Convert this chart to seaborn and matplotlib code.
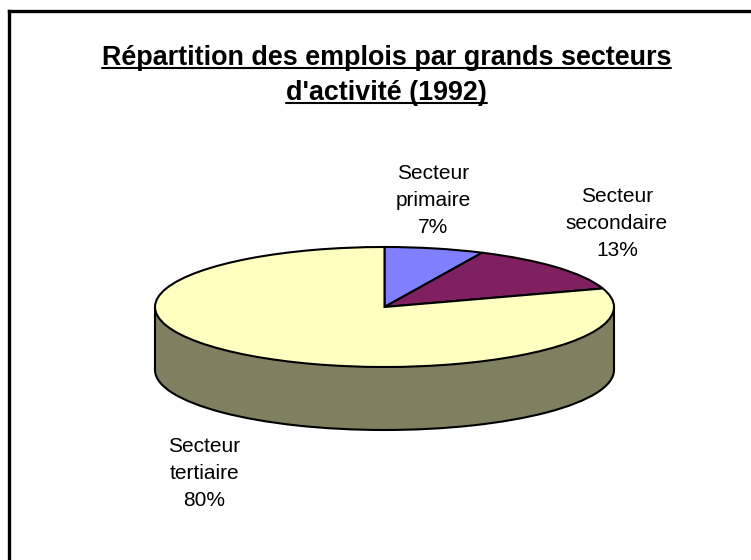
import seaborn as sns
import matplotlib.pyplot as plt
from matplotlib.lines import Line2D
from matplotlib.patches import Rectangle

title_lines = ["Répartition des emplois par grands secteurs", "d'activité (1992)"]
categories = ["Secteur\nprimaire", "Secteur\nsecondaire", "Secteur\ntertiaire"]
shares = [7, 13, 80]
colors = ["#8080FF", "#802060", "#FFFFC0"]
wall_color = "#808060"

W, H = 751, 560
sns.set_theme(style="white")
plt.rcParams['font.family'] = ['Liberation Sans', 'DejaVu Sans']

def fx(px):  # pixel to figure coords
    return px / W

def fy(px):
    return 1 - px / H

fig = plt.figure(figsize=(W / 100, H / 100), dpi=100, facecolor="white")

# axes covers the pie plus its side wall, radius 1 = half the ellipse width
left, right, top, bottom = 155, 614, 247, 430
rx = (right - left) / 2
ry = 60
depth = (bottom - top - 2 * ry) / ry
ax = fig.add_axes([fx(left - 10), fy(bottom + 10), (right - left + 20) / W, (bottom - top + 20) / H])
lw = 1.5
edge = {"edgecolor": "black", "linewidth": lw}

# side wall: lower ellipse + band, then the top face over it
ax.pie([sum(shares)], colors=[wall_color], center=(0, -depth), radius=1, wedgeprops=edge, startangle=90)
ax.add_patch(Rectangle((-1, -depth), 2, depth, facecolor=wall_color, edgecolor="none", zorder=3))
ax.plot([-1, -1], [0, -depth], color="black", lw=lw, zorder=4)
ax.plot([1, 1], [0, -depth], color="black", lw=lw, zorder=4)
wedges, _ = ax.pie(shares, colors=colors, startangle=90, counterclock=False, radius=1, wedgeprops=edge)
for w in wedges:
    w.set_zorder(5)
ax.set_aspect("auto")
ax.set_xlim(-1 - 10 / rx, 1 + 10 / rx)
ax.set_ylim(-1 - depth - 10 / ry, 1 + 10 / ry)
ax.axis("off")

# title, underlined by hand
title_y = [65, 100]
renderer = fig.canvas.get_renderer()
for line, y in zip(title_lines, title_y):
    t = fig.text(fx(386.5), fy(y), line, ha="center", va="baseline", fontsize=19.4, fontweight="bold", color="black")
    bb = t.get_window_extent(renderer)
    uy = fy(y + 3)
    fig.add_artist(Line2D([bb.x0 / W, bb.x1 / W], [uy, uy], color="black", lw=1.5))

# slice labels, y is the baseline of the last line
label_pos = [(433, 233), (617, 256), (204, 506)]
for cat, share, (x, y) in zip(categories, shares, label_pos):
    fig.text(fx(x), fy(y), f"{cat}\n{share}%", ha="center", va="baseline", multialignment="center",
             fontsize=15, color="black", linespacing=1.52)

# slide frame, only top and left show
fig.add_artist(Line2D([fx(9), fx(9)], [0, fy(11)], color="black", lw=2.4, solid_capstyle="projecting"))
fig.add_artist(Line2D([fx(9), 1], [fy(11), fy(11)], color="black", lw=2.4, solid_capstyle="projecting"))

fig.savefig("out.png", dpi=100, facecolor="white")
